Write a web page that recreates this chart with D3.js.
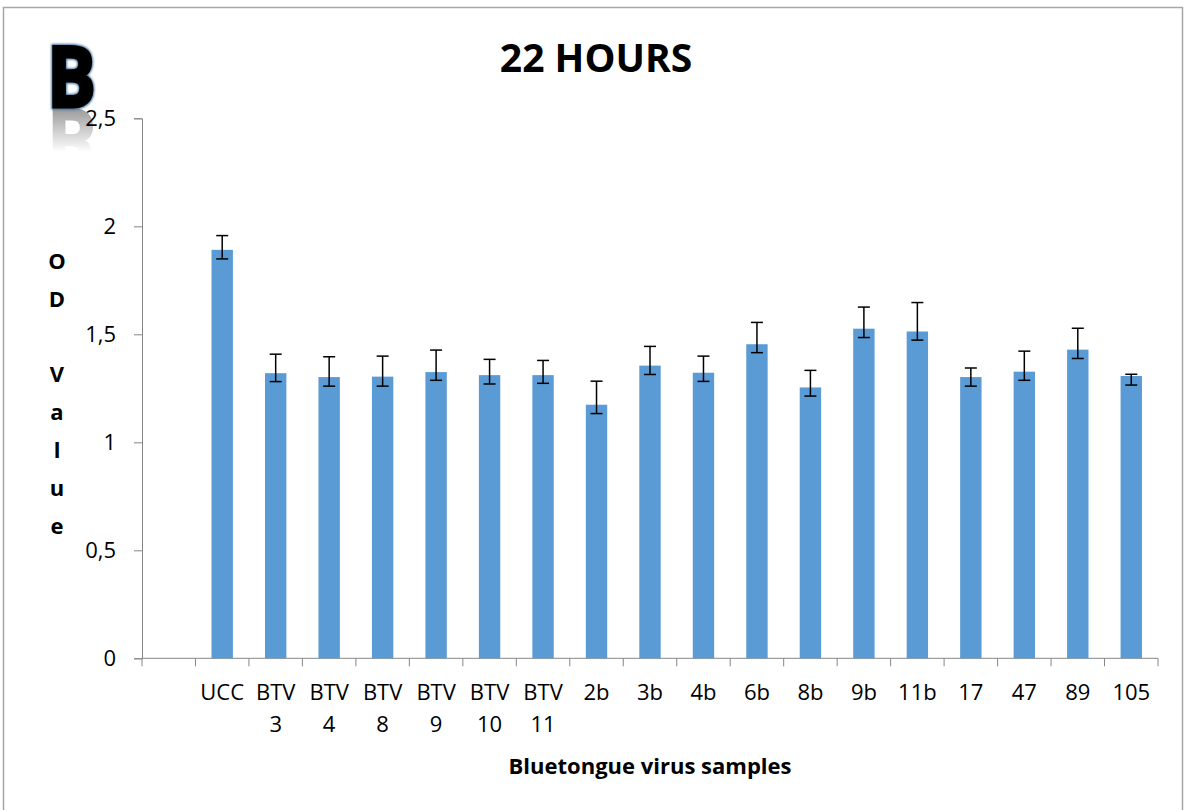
<!DOCTYPE html>
<html>
<head>
<meta charset="utf-8">
<script src="https://cdn.jsdelivr.net/npm/d3@7"></script>
<style>
    body { margin: 0; background: white; }
    text { font-family: "Open Sans", Lato, sans-serif; }
</style>
</head>
<body>
<div id="chartBox"></div>
<script>

// sample names (first slot of the axis is left empty in the original)
var samples = ["UCC", "BTV\n3", "BTV\n4", "BTV\n8", "BTV\n9", "BTV\n10", "BTV\n11",
    "2b", "3b", "4b", "6b", "8b", "9b", "11b", "17", "47", "89", "105"];

// mean OD values at 22 hours
var odValues = [1.891, 1.320, 1.302, 1.304, 1.325, 1.311, 1.311,
    1.174, 1.355, 1.322, 1.454, 1.254, 1.526, 1.513, 1.302, 1.327, 1.429, 1.307];

// custom error amounts (plus / minus)
var errPlus = [0.066, 0.088, 0.094, 0.095, 0.102, 0.073, 0.068,
    0.109, 0.089, 0.077, 0.101, 0.079, 0.100, 0.134, 0.042, 0.095, 0.099, 0.008];
var errMinus = [0.042, 0.039, 0.042, 0.044, 0.038, 0.041, 0.038,
    0.041, 0.041, 0.040, 0.039, 0.040, 0.041, 0.040, 0.042, 0.040, 0.041, 0.042];

var yTicks = [0, 0.5, 1, 1.5, 2, 2.5];

var width = 1185,
    height = 810;

var svg = d3.select("#chartBox").append("svg")
    .attr("width", width)
    .attr("height", height);

// outer chart frame
svg.append("rect")
    .attr("x", 3.5)
    .attr("y", 7.5)
    .attr("width", 1179)
    .attr("height", 850)
    .attr("fill", "white")
    .attr("stroke", "#a6a6a6")
    .attr("stroke-width", 1.5);

// panel letter with its reflection (drawn first so the axis sits on top)
var defs = svg.append("defs");
var grad = defs.append("linearGradient")
    .attr("id", "fade")
    .attr("x1", 0).attr("y1", 0).attr("x2", 0).attr("y2", 1);
grad.append("stop").attr("offset", "0%").attr("stop-color", "white").attr("stop-opacity", 0.6);
grad.append("stop").attr("offset", "80%").attr("stop-color", "white").attr("stop-opacity", 0);
defs.append("mask")
    .attr("id", "fadeMask")
    .append("rect")
    .attr("x", 40).attr("y", 108).attr("width", 70).attr("height", 55)
    .attr("fill", "url(#fade)");

var glow = defs.append("filter").attr("id", "glow");
glow.append("feGaussianBlur").attr("stdDeviation", 1.2);

svg.append("g")
    .attr("mask", "url(#fadeMask)")
    .append("text")
    .attr("x", 47)
    .attr("y", -109)
    .attr("transform", "scale(1,-1)")
    .attr("font-family", "'Liberation Sans', Arial, sans-serif")
    .attr("font-size", 84)
    .attr("font-weight", "bold")
    .attr("textLength", 49)
    .attr("lengthAdjust", "spacingAndGlyphs")
    .attr("fill", "#555")
    .attr("stroke", "#555")
    .attr("stroke-width", 2)
    .text("B");

svg.append("text")
    .attr("x", 47)
    .attr("y", 107)
    .attr("font-family", "'Liberation Sans', Arial, sans-serif")
    .attr("font-size", 84)
    .attr("font-weight", "bold")
    .attr("textLength", 49)
    .attr("lengthAdjust", "spacingAndGlyphs")
    .attr("fill", "#3a6a99")
    .attr("stroke", "#3a6a99")
    .attr("stroke-width", 5)
    .attr("filter", "url(#glow)")
    .text("B");

svg.append("text")
    .attr("x", 47)
    .attr("y", 107)
    .attr("font-family", "'Liberation Sans', Arial, sans-serif")
    .attr("font-size", 84)
    .attr("font-weight", "bold")
    .attr("textLength", 49)
    .attr("lengthAdjust", "spacingAndGlyphs")
    .attr("fill", "#000")
    .attr("stroke", "#000")
    .attr("stroke-width", 3)
    .text("B");

var data = samples.map(function(d, i) {
    return {name: d, value: odValues[i], plus: errPlus[i], minus: errMinus[i]};
});

var x = d3.scaleBand()
    .domain([""].concat(samples))
    .range([142, 1158])
    .paddingInner(0.6)
    .paddingOuter(0.3);

var y = d3.scaleLinear()
    .domain([0, 2.5])
    .range([658.3, 118.3]);

var step = x.step();

// y axis
var yAxis = svg.append("g")
    .attr("transform", "translate(142,0)")
    .call(d3.axisLeft(y)
        .tickValues(yTicks)
        .tickSize(8)
        .tickPadding(18)
        .tickFormat(function(d) { return String(d).replace(".", ","); }));

yAxis.selectAll("path, line").attr("stroke", "#868686");
yAxis.selectAll("text")
    .attr("font-size", 22)
    .attr("font-family", "'Open Sans', sans-serif")
    .attr("fill", "#000");

// x axis line and boundary ticks
var xAxis = svg.append("g");

xAxis.append("line")
    .attr("x1", 142).attr("x2", 1158)
    .attr("y1", y(0)).attr("y2", y(0))
    .attr("stroke", "#868686");

var bounds = d3.range(x.domain().length + 1);
xAxis.selectAll("line.tick")
    .data(bounds)
    .enter().append("line")
    .attr("class", "tick")
    .attr("x1", function(d) { return 142 + d * step; })
    .attr("x2", function(d) { return 142 + d * step; })
    .attr("y1", y(0))
    .attr("y2", y(0) + 8)
    .attr("stroke", "#868686");

// category labels, split over two lines where needed
var labels = xAxis.selectAll("text.cat")
    .data(samples)
    .enter().append("text")
    .attr("class", "cat")
    .attr("text-anchor", "middle")
    .attr("font-size", 22)
    .attr("fill", "#000")
    .attr("transform", function(d) {
        return "translate(" + (x(d) + x.bandwidth() / 2) + "," + (y(0) + 42) + ")";
    });

labels.selectAll("tspan")
    .data(function(d) { return d.split("\n"); })
    .enter().append("tspan")
    .attr("x", 0)
    .attr("dy", function(d, i) { return i == 0 ? 0 : 32; })
    .text(function(d) { return d; });

// bars
svg.selectAll("rect.bar")
    .data(data)
    .enter().append("rect")
    .attr("class", "bar")
    .attr("x", function(d) { return x(d.name); })
    .attr("y", function(d) { return y(d.value); })
    .attr("width", x.bandwidth())
    .attr("height", function(d) { return y(0) - y(d.value); })
    .attr("fill", "#5b9bd5");

// error bars
var err = svg.selectAll("g.err")
    .data(data)
    .enter().append("g")
    .attr("class", "err")
    .attr("transform", function(d) {
        return "translate(" + (x(d.name) + x.bandwidth() / 2) + ",0)";
    })
    .attr("stroke", "#000")
    .attr("stroke-width", 1.5);

err.append("line")
    .attr("y1", function(d) { return y(d.value + d.plus); })
    .attr("y2", function(d) { return y(d.value - d.minus); });

err.append("line")
    .attr("x1", -6).attr("x2", 6)
    .attr("y1", function(d) { return y(d.value + d.plus); })
    .attr("y2", function(d) { return y(d.value + d.plus); });

err.append("line")
    .attr("x1", -6).attr("x2", 6)
    .attr("y1", function(d) { return y(d.value - d.minus); })
    .attr("y2", function(d) { return y(d.value - d.minus); });

// title
svg.append("text")
    .attr("x", 596)
    .attr("y", 72)
    .attr("text-anchor", "middle")
    .attr("font-size", 39)
    .attr("font-weight", "bold")
    .text("22 HOURS");

// axis titles
svg.append("text")
    .attr("x", 650)
    .attr("y", 774)
    .attr("text-anchor", "middle")
    .attr("font-size", 22)
    .attr("font-weight", "bold")
    .text("Bluetongue virus samples");

var yLetters = ["O", "D", "", "V", "a", "l", "u", "e"];
svg.selectAll("text.ylab")
    .data(yLetters)
    .enter().append("text")
    .attr("class", "ylab")
    .attr("x", 57)
    .attr("y", function(d, i) { return 269 + i * 37.8; })
    .attr("text-anchor", "middle")
    .attr("font-size", 22)
    .attr("font-weight", "bold")
    .text(function(d) { return d; });

</script>
</body>
</html>
